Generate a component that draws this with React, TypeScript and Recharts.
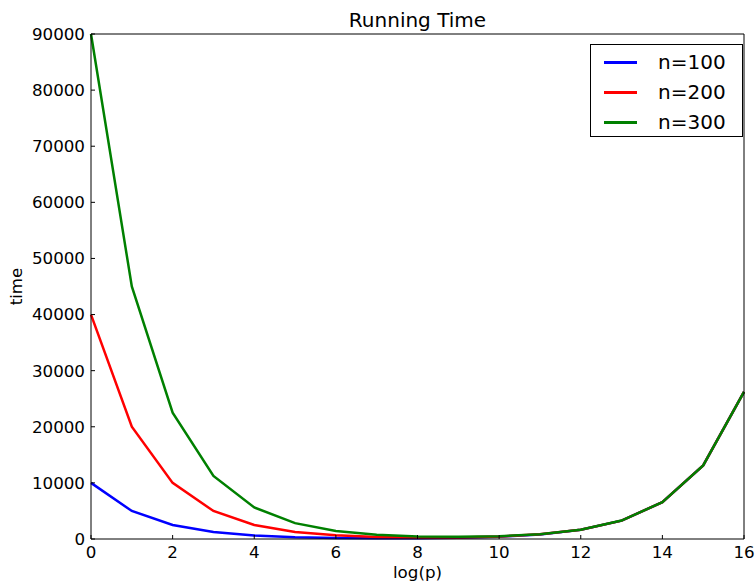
import { LineChart, Line, XAxis, YAxis, Legend, Label } from "recharts";

// log(p) values on the x axis
const logP = [0, 1, 2, 3, 4, 5, 6, 7, 8, 9, 10, 11, 12, 13, 14, 15, 16];

// running time
const timeN100 = [10000, 5000, 2500, 1250, 630, 320, 180, 130, 140, 220, 410, 820, 1640, 3280, 6560, 13110, 26220];
const timeN200 = [40000, 20000, 10000, 5000, 2500, 1260, 650, 360, 260, 280, 450, 840, 1650, 3280, 6560, 13110, 26220];
const timeN300 = [90000, 45000, 22500, 11250, 5630, 2830, 1430, 750, 450, 380, 490, 860, 1660, 3290, 6560, 13110, 26220];

const xTicks = [0, 2, 4, 6, 8, 10, 12, 14, 16];
const yTicks = [0, 10000, 20000, 30000, 40000, 50000, 60000, 70000, 80000, 90000];

const seriesKeys = ["n100", "n200", "n300"];
const seriesNames = ["n=100", "n=200", "n=300"];
const seriesColors = ["#0000ff", "#ff0000", "#008000"];

const data = logP.map((p, i) => ({
  p,
  n100: timeN100[i],
  n200: timeN200[i],
  n300: timeN300[i],
}));

const tickFont = { fill: "#000", fontSize: 16.7 };

const LegendBox = () => (
  <div
    style={{
      width: 151,
      height: 91,
      border: "1px solid #000",
      background: "#fff",
      boxSizing: "content-box",
    }}
  >
    {seriesNames.map((name, i) => (
      <div
        key={name}
        style={{ display: "flex", alignItems: "center", height: 30, marginTop: i === 0 ? 2 : 0 }}
      >
        <div style={{ width: 33, height: 3, background: seriesColors[i], marginLeft: 13 }} />
        <span style={{ marginLeft: 21, fontSize: 20, color: "#000", lineHeight: "20px" }}>{name}</span>
      </div>
    ))}
  </div>
);

const App = () => {
  return (
    <div
      style={{
        position: "absolute",
        left: 0,
        top: 0,
        width: 755,
        height: 586,
        background: "#fff",
        fontFamily: "DejaVu Sans",
      }}
    >
      <LineChart width={755} height={586} data={data} margin={{ top: 0, right: 0, bottom: 0, left: 0 }}>
        <XAxis
          xAxisId="b"
          dataKey="p"
          type="number"
          domain={[0, 16]}
          ticks={xTicks}
          interval={0}
          height={47}
          tickSize={-4}
          tickMargin={11}
          stroke="#000"
          tick={tickFont}
        >
          <Label value="log(p)" position="insideBottom" offset={8} fill="#000" fontSize={16.7} />
        </XAxis>
        <XAxis
          xAxisId="t"
          orientation="top"
          dataKey="p"
          type="number"
          domain={[0, 16]}
          ticks={xTicks}
          interval={0}
          height={34}
          tickSize={-4}
          stroke="#000"
          tick={false}
        >
          <Label value="Running Time" position="insideTop" offset={13} fill="#000" fontSize={20} />
        </XAxis>
        <YAxis
          yAxisId="l"
          type="number"
          domain={[0, 90000]}
          ticks={yTicks}
          interval={0}
          width={91}
          tickSize={-4}
          tickMargin={10}
          stroke="#000"
          tick={tickFont}
        >
          <Label value="time" angle={-90} position="center" dx={-29} fill="#000" fontSize={16.7} />
        </YAxis>
        <YAxis
          yAxisId="r"
          orientation="right"
          type="number"
          domain={[0, 90000]}
          ticks={yTicks}
          interval={0}
          width={11}
          tickSize={-4}
          stroke="#000"
          tick={false}
        />
        {seriesKeys.map((key, i) => (
          <Line
            key={key}
            xAxisId="b"
            yAxisId="l"
            type="linear"
            dataKey={key}
            name={seriesNames[i]}
            stroke={seriesColors[i]}
            strokeWidth={2.5}
            dot={false}
            isAnimationActive={false}
          />
        ))}
        <Legend
          layout="vertical"
          align="center"
          verticalAlign="middle"
          content={() => <LegendBox />}
          wrapperStyle={{ top: 44, left: 590, width: 153, height: 93 }}
        />
      </LineChart>
    </div>
  );
};

export default App;
